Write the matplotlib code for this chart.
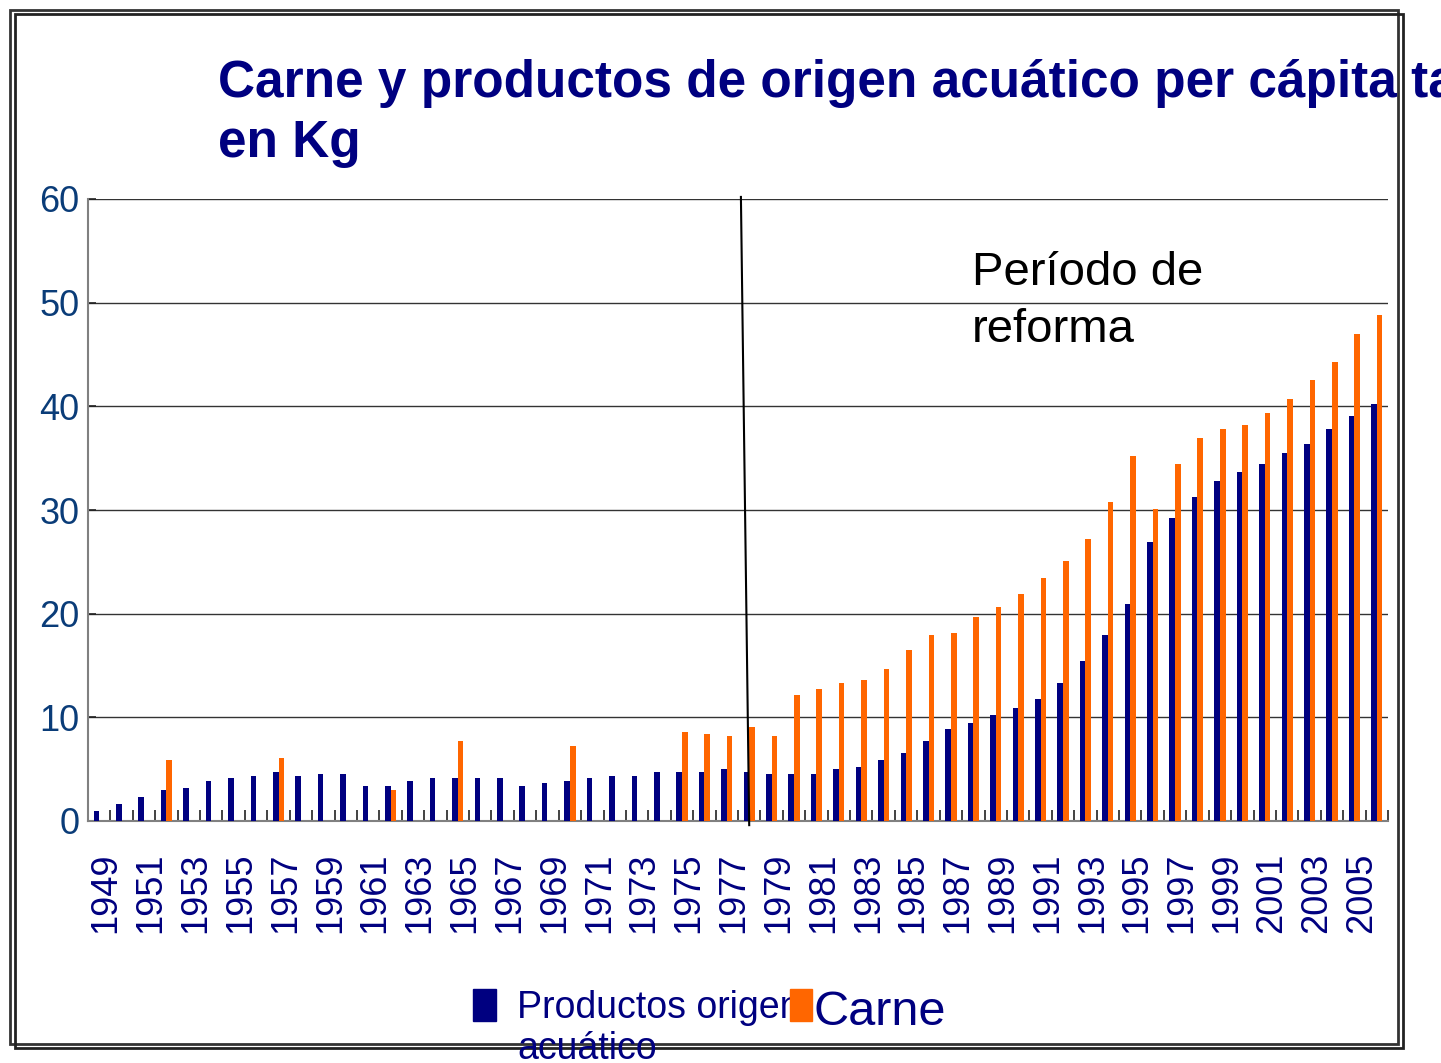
import numpy as np
import matplotlib
matplotlib.use("Agg")
from matplotlib import pyplot as plt
from matplotlib.patches import Rectangle
import matplotlib.transforms as mtransforms

plt.rcParams['font.family'] = ['Liberation Sans', 'DejaVu Sans']

nan = np.nan
years = list(range(1949, 2007))
# productos de origen acuatico, kg per capita
acuatico = [1.0, 1.6, 2.3, 3.0, 3.2, 3.9, 4.1, 4.3, 4.75, 4.3,
            4.5, 4.5, 3.4, 3.4, 3.9, 4.1, 4.1, 4.1, 4.1, 3.4,
            3.65, 3.9, 4.1, 4.3, 4.3, 4.75, 4.75, 4.75, 5.0, 4.75,
            4.5, 4.5, 4.5, 5.0, 5.2, 5.9, 6.55, 7.7, 8.85, 9.5,
            10.2, 10.9, 11.8, 13.3, 15.4, 17.9, 20.9, 26.95, 29.2, 31.3,
            32.8, 33.7, 34.4, 35.5, 36.4, 37.8, 39.1, 40.2]
# carne, kg per capita (missing years have no bar)
carne = [nan, nan, nan, 5.9, nan, nan, nan, nan, 6.1, nan,
         nan, nan, nan, 3.0, nan, nan, 7.7, nan, nan, nan,
         nan, 7.2, nan, nan, nan, nan, 8.6, 8.4, 8.2, 9.07,
         8.2, 12.2, 12.7, 13.3, 13.6, 14.7, 16.5, 17.9, 18.1, 19.7,
         20.6, 21.9, 23.4, 25.1, 27.2, 30.8, 35.2, 30.1, 34.4, 36.9,
         37.8, 38.2, 39.4, 40.7, 42.5, 44.3, 47.0, 48.8]
tick_years = [y for y in years if y % 2 == 1]

navy = '#000080'
orange = '#ff6600'
W, H = 1441, 1063

fig = plt.figure(figsize=(W / 100, H / 100), dpi=100)
ax = fig.add_axes([88 / W, 1 - 821 / H, 1300 / W, 622 / H])

x = np.arange(len(years))
bw = 0.25
ax.bar(x - bw / 2, acuatico, bw, color=navy, zorder=3)
ax.bar(x + bw / 2, carne, bw, color=orange, zorder=3)

ax.set_xlim(-0.5, len(years) - 0.5)
ax.set_ylim(0, 60)
ax.set_yticks(range(0, 61, 10))
ax.yaxis.grid(True, color='#333333', lw=1, zorder=0)
for s in ['top', 'right']:
    ax.spines[s].set_visible(False)
for s in ['left', 'bottom']:
    ax.spines[s].set_color('#808080')
    ax.spines[s].set_linewidth(1.5)

ax.tick_params(axis='y', direction='in', length=6, width=1.2, color='#222222',
               labelsize=26, labelcolor='#0a3c78', pad=6)
ax.set_xticks([years.index(y) for y in tick_years])
ax.set_xticklabels([str(y) for y in tick_years], rotation=90)
ax.set_xticks(np.arange(-0.5, len(years)), minor=True)
ax.tick_params(axis='x', which='major', length=0, labelsize=26,
               labelcolor=navy, pad=23)
ax.tick_params(axis='x', which='minor', direction='in', length=8, width=1.2,
               color='#222222')
offset = mtransforms.ScaledTranslation(7 / 100, 0, fig.dpi_scale_trans)
for lab in ax.get_xticklabels():
    lab.set_transform(lab.get_transform() + offset)

# linea del periodo de reforma
i78 = years.index(1978)
ax.plot([i78 - 0.37, i78], [60.2, -0.4], color='black', lw=1.5,
        clip_on=False, zorder=5)
fig.text(972 / W, 1 - 285 / H, 'Período de', fontsize=34, color='black')
fig.text(972 / W, 1 - 342 / H, 'reforma', fontsize=34, color='black')

# titulo
fig.text(218 / W, 1 - 97 / H, 'Carne y productos de origen acuático per cápita ta',
         fontsize=37, fontweight='bold', color=navy)
fig.text(218 / W, 1 - 157 / H, 'en Kg', fontsize=37, fontweight='bold', color=navy)

# leyenda
fig.patches.append(Rectangle((473 / W, 1 - 1021 / H), 23 / W, 32 / H,
                             transform=fig.transFigure, color=navy))
fig.text(517 / W, 1 - 1018 / H, 'Productos origen', fontsize=27, color=navy)
fig.text(517 / W, 1 - 1059 / H, 'acuático', fontsize=27, color=navy)
fig.patches.append(Rectangle((790 / W, 1 - 1021 / H), 22 / W, 32 / H,
                             transform=fig.transFigure, color=orange, zorder=5))
fig.text(813 / W, 1 - 1025 / H, 'Carne', fontsize=35, color=navy)

# marco
fig.patches.append(Rectangle((10 / W, 1 - 1044 / H), 1388 / W, 1034 / H,
                             transform=fig.transFigure, fill=False,
                             ec='#333333', lw=2))
fig.patches.append(Rectangle((15 / W, 1 - 1048 / H), 1388 / W, 1034 / H,
                             transform=fig.transFigure, fill=False,
                             ec='#222222', lw=2))

fig.savefig('out.png', dpi=100)
